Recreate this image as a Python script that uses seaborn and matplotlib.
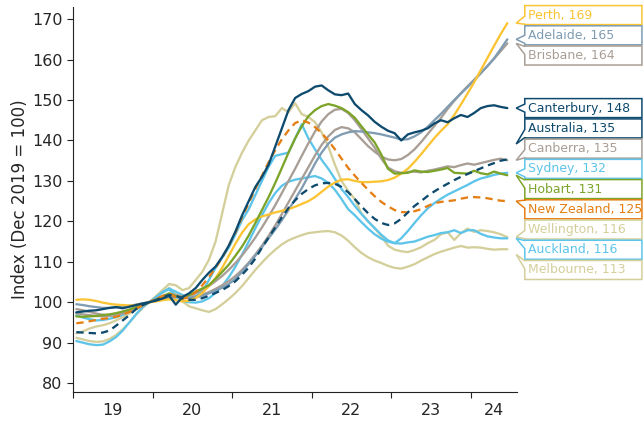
import matplotlib
matplotlib.use('Agg')
import matplotlib.pyplot as plt
from matplotlib.patches import Polygon
import numpy as np
import pandas as pd
import seaborn as sns

# DATA
# monthly index, Jan 2019 - Jun 2024 (Dec 2019 = 100)
months = pd.date_range('2019-01-01', '2024-06-01', freq='MS')

perth = [100.6, 100.7, 100.6, 100.3, 99.9, 99.6, 99.4, 99.3, 99.2, 99.3, 99.6, 100.0,
         100.2, 100.5, 100.7, 100.5, 100.2, 100.4, 101.0, 102.3, 104.0, 106.0, 108.5, 111.5,
         114.5, 117.2, 119.3, 120.5, 121.2, 121.7, 122.2, 122.6, 123.0, 123.6, 124.3, 125.0,
         126.0, 127.3, 128.6, 129.6, 130.3, 130.4, 130.0, 129.7, 129.7, 129.8, 129.9, 130.2,
         130.8, 131.8, 133.0, 134.7, 136.6, 138.6, 140.6, 142.4, 144.0, 146.3, 148.9, 151.6,
         154.4, 157.4, 160.4, 163.4, 166.3, 169.0]
adelaide = [99.5, 99.3, 99.0, 98.8, 98.6, 98.6, 98.7, 98.9, 99.1, 99.4, 99.7, 100.0,
            100.3, 100.7, 101.0, 101.2, 101.1, 101.0, 101.2, 101.6, 102.2, 102.9, 103.6, 104.5,
            105.8, 107.5, 109.5, 111.5, 113.6, 115.8, 118.0, 120.3, 122.8, 125.5, 128.2, 131.2,
            134.3, 137.0, 139.2, 140.7, 141.5, 142.0, 142.3, 142.2, 142.0, 141.8, 141.5, 141.1,
            140.7, 140.2, 140.3, 141.0, 142.0, 143.4, 145.0, 146.6, 148.3, 150.0, 151.6, 153.2,
            154.9, 156.6, 158.4, 160.3, 162.6, 165.0]
brisbane = [98.3, 98.0, 97.6, 97.2, 96.9, 96.8, 96.9, 97.2, 97.7, 98.4, 99.2, 100.0,
            100.6, 101.2, 101.6, 101.5, 101.2, 101.1, 101.4, 101.9, 102.5, 103.3, 104.2, 105.2,
            106.5, 108.0, 109.8, 111.8, 114.0, 116.4, 119.0, 121.8, 124.7, 127.6, 130.5, 133.4,
            136.3, 138.9, 141.0, 142.6, 143.3, 143.0, 142.0, 140.3, 138.6, 137.2, 136.0, 135.3,
            135.1, 135.4, 136.4, 137.8, 139.6, 141.6, 143.6, 145.6, 147.8, 149.8, 151.7, 153.4,
            155.0, 156.7, 158.4, 160.2, 162.1, 164.0]
canterbury = [97.5, 97.7, 97.9, 98.0, 98.3, 98.6, 98.8, 98.5, 98.9, 99.3, 99.7, 100.0,
              100.4, 100.9, 101.6, 99.4, 101.3, 102.2, 103.5, 105.5, 107.3, 108.8, 111.2, 114.0,
              117.5, 121.5, 125.0, 128.5, 131.0, 134.0, 138.5, 143.0, 147.5, 150.5, 151.5, 152.2,
              153.3, 153.6, 152.4, 151.4, 151.2, 151.6, 149.0, 147.5, 146.2, 144.6, 143.4, 142.4,
              141.8, 140.0, 141.5, 142.0, 142.4, 143.0, 144.2, 145.0, 144.5, 145.5, 146.3, 145.8,
              146.8, 148.0, 148.5, 148.7, 148.3, 148.0]
australia = [92.6, 92.5, 92.4, 92.3, 92.5, 93.0, 94.2, 95.5, 96.8, 98.3, 99.3, 100.0,
             100.5, 101.2, 101.8, 101.6, 101.0, 100.6, 100.6, 101.0, 101.6, 102.3, 103.0, 104.0,
             105.2, 106.8, 108.6, 110.8, 113.5, 116.0, 118.5, 121.0, 123.3, 125.2, 126.8, 128.0,
             128.9, 129.4, 129.5, 129.3, 128.5, 127.2, 125.5, 123.7, 122.0, 120.6, 119.6, 119.1,
             119.5, 120.6, 122.2, 123.8, 125.0, 126.3, 127.4, 128.4, 129.3, 130.2, 131.0, 131.7,
             132.4, 133.1, 133.8, 134.4, 135.0, 135.3]
canberra = [97.3, 97.0, 96.8, 96.6, 96.5, 96.6, 96.8, 97.2, 97.8, 98.5, 99.3, 100.0,
            100.8, 101.5, 102.0, 101.8, 101.5, 101.6, 102.2, 103.0, 104.0, 105.2, 106.5, 108.0,
            109.7, 111.6, 113.7, 116.0, 118.5, 121.2, 124.0, 127.0, 130.0, 133.0, 136.2, 139.3,
            142.2, 144.7, 146.5, 147.6, 147.8, 146.8, 145.0, 142.8, 140.5, 138.2, 135.5, 133.3,
            132.4, 132.0, 132.2, 132.3, 132.1, 132.5, 132.8, 133.2, 133.6, 133.4, 133.9, 134.3,
            134.0, 134.4, 134.8, 135.2, 135.5, 135.1]
sydney = [96.8, 96.2, 95.8, 95.5, 95.6, 95.9, 96.3, 96.9, 97.7, 98.6, 99.4, 100.0,
          101.2, 102.5, 103.4, 102.6, 101.8, 101.2, 101.5, 102.6, 105.5, 108.5, 111.0, 113.5,
          116.8, 120.3, 123.0, 126.5, 130.0, 133.5, 136.2, 136.6, 137.0, 140.5, 144.0, 140.5,
          137.8, 135.2, 133.0, 130.5, 128.0, 126.0, 123.8, 121.8, 120.0, 118.3, 116.7, 115.3,
          114.6, 115.8, 117.6, 119.6, 121.5, 123.2, 124.5, 125.6, 126.6, 127.4, 128.2, 129.0,
          129.9, 130.6, 131.0, 131.5, 131.8, 132.0]
hobart = [96.5, 96.4, 96.5, 96.6, 96.8, 97.0, 97.3, 97.7, 98.2, 98.8, 99.4, 100.0,
          100.6, 101.5, 102.2, 101.5, 101.2, 101.8, 102.6, 103.4, 104.2, 105.8, 107.5, 109.3,
          111.5, 113.8, 116.5, 119.6, 122.8, 126.0, 129.5, 133.2, 137.0, 140.5, 143.5, 146.0,
          147.5, 148.5, 149.0, 148.6, 148.0, 147.0, 145.6, 143.5, 141.5, 139.5, 136.5, 133.0,
          131.8, 131.9, 132.0, 132.6, 132.3, 132.2, 132.5, 132.8, 133.2, 132.0, 131.9, 131.8,
          132.5, 131.9, 131.6, 132.3, 131.8, 131.4]
new_zealand = [94.8, 95.0, 95.3, 95.6, 95.9, 96.1, 96.4, 96.9, 97.6, 98.4, 99.2, 100.0,
               100.8, 101.5, 102.2, 101.2, 100.8, 101.3, 102.5, 104.2, 106.2, 108.5, 111.0, 114.0,
               117.2, 121.0, 124.5, 128.0, 131.3, 134.6, 137.6, 140.3, 142.5, 144.3, 145.0, 144.4,
               143.3, 141.8, 140.0, 137.8, 135.5, 133.2, 131.3, 129.5, 127.8, 126.2, 124.8, 123.7,
               122.8, 122.3, 122.2, 122.5, 123.0, 123.8, 124.5, 124.8, 125.0, 125.2, 125.6, 125.9,
               126.0, 125.9, 125.7, 125.4, 125.1, 125.0]
wellington = [92.3, 92.8, 93.5, 94.0, 94.3, 94.8, 95.5, 96.3, 97.2, 98.2, 99.1, 100.0,
              101.5, 103.0, 104.5, 104.2, 103.0, 103.5, 105.5, 107.5, 110.5, 115.0, 122.0, 129.0,
              133.5, 137.0, 140.0, 142.5, 145.0, 145.8, 146.0, 148.0, 147.0, 149.2, 146.5, 145.8,
              144.5, 142.0, 138.5, 134.0, 130.0, 127.5, 125.5, 122.0, 120.0, 118.3, 116.3, 114.0,
              113.0, 112.6, 112.4, 112.9, 113.6, 114.6, 115.4, 116.8, 117.3, 115.4, 117.1, 118.2,
              117.4, 117.8, 117.6, 117.3, 116.8, 116.1]
auckland = [90.4, 90.0, 89.6, 89.4, 89.5, 90.3, 91.4, 93.0, 95.0, 97.0, 98.8, 100.0,
            101.2, 102.5, 103.2, 101.5, 100.3, 100.0, 99.9, 100.2, 101.0, 102.3, 104.0, 106.2,
            108.8, 111.8, 115.0, 118.3, 121.5, 124.5, 127.0, 128.8, 129.8, 130.3, 130.6, 130.9,
            131.2, 130.6, 129.5, 127.8, 125.5, 123.0, 121.5, 119.8, 118.2, 116.8, 115.7, 115.0,
            114.6, 114.5, 114.8, 115.0, 115.6, 116.2, 116.6, 117.1, 117.3, 117.8, 117.1, 117.8,
            117.8, 116.9, 116.3, 116.0, 115.8, 115.8]
melbourne = [91.2, 90.8, 90.4, 90.2, 90.3, 90.9, 91.9, 93.3, 95.0, 96.9, 98.6, 100.0,
             101.2, 102.3, 103.5, 102.0, 100.2, 99.0, 98.5, 98.0, 97.6, 98.3, 99.5, 100.8,
             102.3, 104.0, 106.0, 108.0, 109.8, 111.5, 113.0, 114.3, 115.3, 116.0, 116.6, 117.1,
             117.3, 117.5, 117.6, 117.3, 116.5, 115.2, 113.6, 112.2, 111.1, 110.3, 109.7, 109.0,
             108.5, 108.3, 108.8, 109.4, 110.3, 111.1, 111.9, 112.5, 113.0, 113.5, 113.9, 113.5,
             113.6, 113.5, 113.2, 113.0, 113.1, 113.1]

year_labels = ['19', '20', '21', '22', '23', '24']

series = {
    'Melbourne': melbourne, 'Wellington': wellington, 'Auckland': auckland,
    'Sydney': sydney, 'Canberra': canberra, 'Brisbane': brisbane,
    'Adelaide': adelaide, 'Perth': perth, 'Hobart': hobart,
    'New Zealand': new_zealand, 'Australia': australia, 'Canterbury': canterbury,
}

colours = {
    'Perth': '#FCC433', 'Adelaide': '#7F9CB3', 'Brisbane': '#A89E95',
    'Canterbury': '#0E4A6E', 'Australia': '#0E4A6E', 'Canberra': '#A89E95',
    'Sydney': '#5DC4EA', 'Hobart': '#7BA428', 'New Zealand': '#E57F14',
    'Wellington': '#D4CF9A', 'Auckland': '#5DC4EA', 'Melbourne': '#D4CF9A',
}
dash_styles = {name: '' for name in series}
dash_styles['Australia'] = (3.2, 2.2)
dash_styles['New Zealand'] = (3.2, 2.2)

# PREP
frames = []
for name, vals in series.items():
    frames.append(pd.DataFrame({'Month': months, 'Index': vals, 'Region': name}))
df = pd.concat(frames, ignore_index=True)
df['Year'] = df['Month'].dt.year + (df['Month'].dt.month - 0.5) / 12
order = list(series.keys())

# PLOT
sns.set_style('ticks')
plt.rcParams['font.family'] = ['DejaVu Sans']

fig = plt.figure(figsize=(6.44, 4.24), dpi=100)
ax = fig.add_axes([73 / 644, 32 / 424, 444 / 644, 385 / 424])

sns.lineplot(data=df, x='Year', y='Index', hue='Region', style='Region',
             hue_order=order, style_order=order, palette=colours,
             dashes=dash_styles, linewidth=1.65, legend=False, ax=ax)

ax.set_xlim(2019, 2024.58)
ax.set_ylim(77.8, 173)
ax.set_yticks(range(80, 171, 10))
ax.set_xticks(range(2019, 2025))
ax.set_xticklabels([])
ax.set_xticks([2019.5, 2020.5, 2021.5, 2022.5, 2023.5, 2024.29], minor=True)
ax.set_xticklabels(year_labels, minor=True)
ax.tick_params(axis='both', which='major', labelsize=11.5, length=4, width=0.8, color='#222222')
ax.tick_params(axis='x', which='minor', length=0, pad=8, labelsize=11.5)
ax.set_xlabel('')
ax.set_ylabel('Index (Dec 2019 = 100)', fontsize=12, labelpad=2)
for side in ['top', 'right']:
    ax.spines[side].set_visible(False)
for side in ['left', 'bottom']:
    ax.spines[side].set_linewidth(0.8)
    ax.spines[side].set_color('#222222')


# end labels: dodge so boxes don't overlap
def dodge(values, gap):
    clusters = [[i] for i in range(len(values))]
    changed = True
    while changed:
        changed = False
        centres = [np.mean([values[i] for i in c]) for c in clusters]
        for k in range(len(clusters) - 1):
            low_k = centres[k] - gap * (len(clusters[k]) - 1) / 2
            high_n = centres[k + 1] + gap * (len(clusters[k + 1]) - 1) / 2
            if low_k - high_n < gap:
                clusters[k] = clusters[k] + clusters[k + 1]
                del clusters[k + 1]
                changed = True
                break
    pos = [0] * len(values)
    for c in clusters:
        centre = np.mean([values[i] for i in c])
        for j, i in enumerate(c):
            pos[i] = centre + gap * ((len(c) - 1) / 2 - j)
    return pos


ends = sorted(((vals[-1], name) for name, vals in series.items()), reverse=True)
end_vals = [e[0] for e in ends]
label_pos = dodge(end_vals, 5.0)

x_box, x_tip, x_right = 2024.678, 2024.57, 2026.15
half_h = 2.35
for (val, name), yc in zip(ends, label_pos):
    c = colours[name]
    top, bot = yc + half_h, yc - half_h
    tip_y = min(max(val, bot - 1.5), top + 1.5)
    base = min(max(tip_y, bot + 1.1), top - 1.1)
    pts = [(x_right, top), (x_box, top), (x_box, base + 1.0), (x_tip, tip_y),
           (x_box, base - 1.0), (x_box, bot), (x_right, bot)]
    ax.add_patch(Polygon(pts, closed=True, facecolor='white', edgecolor=c,
                         linewidth=1.1, clip_on=False, zorder=5))
    ax.text(x_box + 0.04, yc, f'{name}, {val:.0f}', color=c, fontsize=9,
            va='center', ha='left', clip_on=False, zorder=6)

fig.savefig('out.png', dpi=100)
